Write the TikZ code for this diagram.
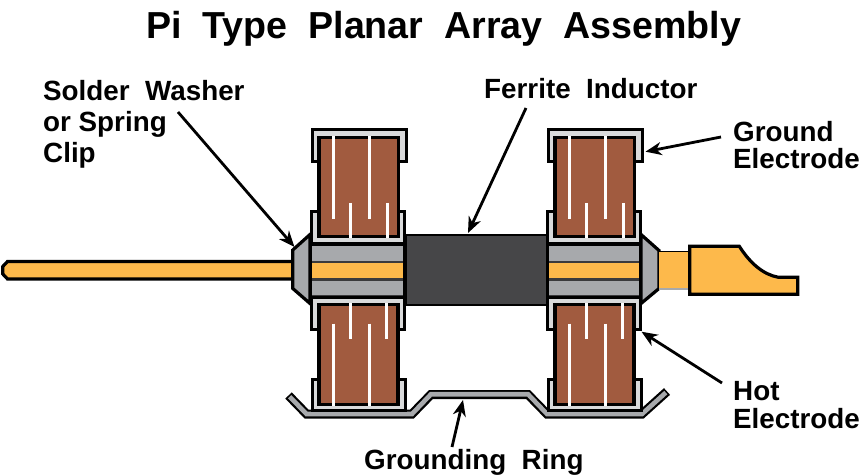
\documentclass[tikz,border=0pt]{standalone}
\usepackage{fontspec}
\setmainfont{Liberation Sans}
\usetikzlibrary{arrows.meta}
\definecolor{brownfill}{HTML}{A15B3F}
\definecolor{leadyellow}{HTML}{FDB94B}
\definecolor{lightgrey}{HTML}{D9DADB}
\definecolor{midgrey}{HTML}{A7A9AC}
\definecolor{darkgrey}{HTML}{464648}
\definecolor{edgegrey}{HTML}{3A3A3C}
\tikzset{
  capshell/.style={draw=black,line width=3pt,fill=lightgrey,miter limit=10},
  block/.style={draw=black,line width=3.2pt,fill=brownfill},
  slit/.style={draw=white,line width=3pt},
  washer/.style={draw=black,line width=3.2pt,fill=midgrey,line join=miter},
  leadpart/.style={draw=black,line width=3.2pt,fill=leadyellow},
  callout/.style={draw=black,line width=2.8pt,-{Stealth[length=16pt,width=13pt,inset=5pt]}},
  labelwide/.style={inner sep=0pt,font=\bfseries\fontsize{27.8}{31}\selectfont,align=left},
  labelclose/.style={inner sep=0pt,font=\bfseries\fontsize{27.8}{27.5}\selectfont,align=left},
  titletext/.style={inner sep=0pt,font=\bfseries\fontsize{37.6}{40}\selectfont}
}
\newcommand{\gap}{\ \ }
\begin{document}
\begin{tikzpicture}[x=1pt,y=-1pt]
\useasboundingbox (0,0) rectangle (860,476);
% grounding ring
\draw[line width=9pt,black,line join=miter] (288.5,395.5) -- (306.5,414) -- (412,414) -- (431,394.5) -- (528,394.5) -- (547,414) -- (642,414) -- (667,391.5);
\draw[line width=4.6pt,midgrey,line join=miter] (289.7,396.7) -- (306.5,414) -- (412,414) -- (431,394.2) -- (528,394.2) -- (547,414) -- (642,414) -- (665.8,392.6);
% left lead
\path[leadpart] (293,261.5) -- (7.5,261.5) -- (2.8,266.5) -- (2.8,274) -- (7.5,279) -- (293,279);
% washers
\path[washer] (310,234.5) -- (292.8,250) -- (292.8,288.5) -- (310,303.5) -- cycle;
\path[washer] (641,234.5) -- (659,250.5) -- (659,288.5) -- (641,303.5) -- cycle;
% right lead and plug
\fill[leadyellow] (659,252) rectangle (691,288.5);
\draw[black,line width=1.4pt] (659,251.5) -- (691,251.5);
\draw[midgrey,line width=1.2pt] (659,289) -- (691,289);
\path[leadpart] (689.7,246.3) -- (739.3,246.3) .. controls (750,263) and (763,274.5) .. (778.3,277.3) -- (797.7,277.3) -- (797.7,294.3) -- (689.7,294.3) -- cycle;
% ferrite
\path[draw=black,line width=2.5pt,fill=darkgrey] (406,235.2) rectangle (547,305);
% barrel between the washers and the ferrite
\fill[black] (309.3,242) rectangle (406.7,299);
\fill[edgegrey] (312,245.5) rectangle (402.7,295.5);
\fill[midgrey] (312,245.8) rectangle (402.7,261);
\fill[midgrey] (312,280.7) rectangle (402.7,295.3);
\fill[leadyellow] (312,263) rectangle (402.7,278);
\fill[black] (546.7,242) rectangle (641,299);
\fill[edgegrey] (549.3,245.5) rectangle (639.3,295.5);
\fill[midgrey] (549.3,245.8) rectangle (639.3,261);
\fill[midgrey] (549.3,280.7) rectangle (639.3,295.3);
\fill[leadyellow] (549.3,263) rectangle (639.3,278);
% capacitor stacks
\foreach \dx in {0,236}{
\begin{scope}[xshift=\dx pt]
  % upper stack
  \path[capshell] (312.4,130) rectangle (406.6,162);
  \path[capshell] (311.7,211.3) rectangle (404.8,243);
  \path[block] (319,137.5) rectangle (398.6,236.6);
  \draw[slit] (333.3,136) -- (333.3,219);
  \draw[slit] (369.7,136) -- (369.7,219);
  \draw[slit] (350.7,203) -- (350.7,238);
  \draw[slit] (387.3,203) -- (387.3,238);
  % lower stack
  \path[capshell] (311.7,297.5) rectangle (404.3,329.8);
  \path[capshell] (312,379.5) rectangle (405.8,410);
  \path[block] (319,304.5) rectangle (398,404.4);
  \draw[slit] (333,323.5) -- (333,405.8);
  \draw[slit] (369.5,323.5) -- (369.5,405.8);
  \draw[slit] (350.5,303) -- (350.5,338.7);
  \draw[slit] (386.8,303) -- (386.8,338.7);
\end{scope}
}
% labels
\node[titletext,anchor=base west] (title) at (146,38.5) {Pi\gap Type\gap Planar\gap Array\gap Assembly};
\node[labelwide,anchor=north west] (solder) at (43,80) {Solder\gap Washer\\or Spring\\Clip};
\node[labelwide,anchor=base west] (ferrite) at (484,99) {Ferrite\gap Inductor};
\node[labelclose,anchor=north west] (ground) at (733,121) {Ground\\Electrode};
\node[labelclose,anchor=north west] (hot) at (733,381.5) {Hot\\Electrode};
\node[labelwide,anchor=base west] (ring) at (364,469.5) {Grounding\gap Ring};
% callouts
\coordinate (soldertail) at (178,112);
\coordinate (soldertip) at (294.5,247);
\coordinate (ferritetail) at (526,108);
\coordinate (ferritetip) at (468,233);
\coordinate (groundtail) at (721,137);
\coordinate (groundtip) at (645.5,151.7);
\coordinate (hottail) at (722,383);
\coordinate (hottip) at (641.5,331.7);
\coordinate (ringtail) at (452,447);
\coordinate (ringtip) at (463,400);
\draw[callout] (soldertail) -- (soldertip);
\draw[callout] (ferritetail) -- (ferritetip);
\draw[callout] (groundtail) -- (groundtip);
\draw[callout] (hottail) -- (hottip);
\draw[callout] (ringtail) -- (ringtip);
\end{tikzpicture}
\end{document}
